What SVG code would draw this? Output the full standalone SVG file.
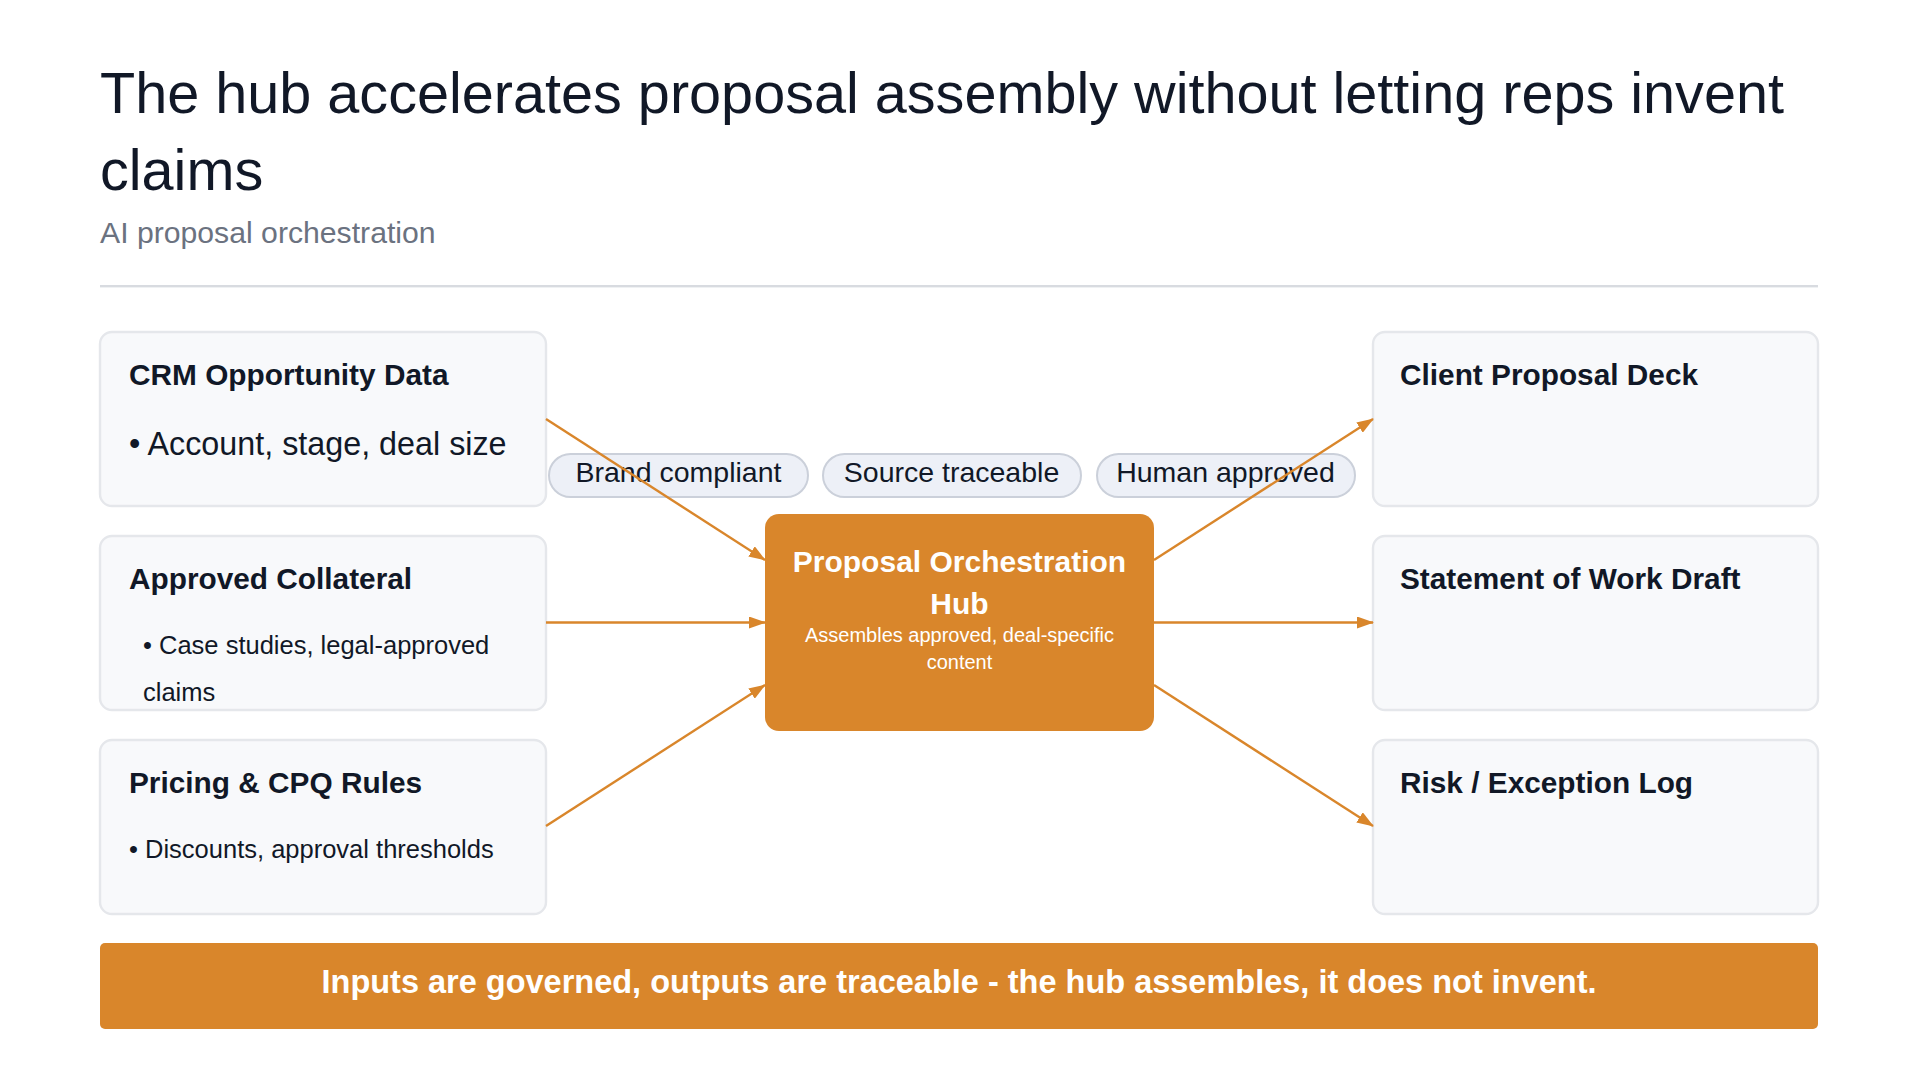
<svg xmlns="http://www.w3.org/2000/svg" width="1919" height="1080" viewBox="0 0 1919 1080">
  <defs>
    <style>
      .txt { font-family: "Liberation Sans", Arial, Helvetica, sans-serif; }
      .title { font-size: 57.6px; fill: #111827; }
      .sub { font-size: 30.2px; fill: #6b7280; }
      .card { fill: #f8f9fb; stroke: #e5e7eb; stroke-width: 2.4; }
      .ctitle { font-size: 29.8px; font-weight: bold; fill: #111827; }
      .cbody { font-size: 25.5px; fill: #111827; }
      .pill { fill: #edf0f7; stroke: #cbd0da; stroke-width: 2; }
      .ptext { font-size: 28.5px; fill: #111827; text-anchor: middle; }
      .edge { stroke: #d9862b; stroke-width: 2.4; fill: none; marker-end: url(#arrow); }
      .hubtitle { font-size: 30px; font-weight: bold; fill: #ffffff; text-anchor: middle; }
      .hubsub { font-size: 20px; fill: #ffffff; text-anchor: middle; }
    </style>
    <marker id="arrow" markerUnits="userSpaceOnUse" markerWidth="17" markerHeight="12" refX="16" refY="6" orient="auto">
      <path d="M0,0 L17,6 L0,12 z" fill="#d9862b"/>
    </marker>
  </defs>
  <rect x="0" y="0" width="1919" height="1080" fill="#ffffff"/>

  <g id="header" class="txt">
    <text class="title txt"><tspan x="100" y="113">The hub accelerates proposal assembly without letting reps invent</tspan><tspan x="100" y="190">claims</tspan></text>
    <text class="sub txt" x="100" y="243">AI proposal orchestration</text>
    <rect x="100" y="285" width="1718" height="2.4" fill="#d8dbe0"/>
  </g>

  <g id="node-crm">
    <rect class="card" x="100" y="332" width="446" height="174" rx="12"/>
    <text class="txt ctitle" x="129" y="385">CRM Opportunity Data</text>
    <text class="txt cbody" x="129" y="455" style="font-size:32.3px">• Account, stage, deal size</text>
  </g>
  <g id="node-collateral">
    <rect class="card" x="100" y="536" width="446" height="174" rx="12"/>
    <text class="txt ctitle" x="129" y="589">Approved Collateral</text>
    <text class="txt cbody" x="143" y="654">• Case studies, legal-approved</text>
    <text class="txt cbody" x="143" y="701">claims</text>
  </g>
  <g id="node-pricing">
    <rect class="card" x="100" y="740" width="446" height="174" rx="12"/>
    <text class="txt ctitle" x="129" y="793">Pricing &amp; CPQ Rules</text>
    <text class="txt cbody" x="129" y="858">• Discounts, approval thresholds</text>
  </g>

  <g id="node-deck">
    <rect class="card" x="1373" y="332" width="445" height="174" rx="12"/>
    <text class="txt ctitle" x="1400" y="385">Client Proposal Deck</text>
  </g>
  <g id="node-sow">
    <rect class="card" x="1373" y="536" width="445" height="174" rx="12"/>
    <text class="txt ctitle" x="1400" y="589">Statement of Work Draft</text>
  </g>
  <g id="node-risk">
    <rect class="card" x="1373" y="740" width="445" height="174" rx="12"/>
    <text class="txt ctitle" x="1400" y="793">Risk / Exception Log</text>
  </g>

  <g id="pills">
    <g id="pill-brand">
      <rect class="pill" x="549" y="454" width="259" height="43" rx="21.5"/>
      <text class="txt ptext" x="678.5" y="482">Brand compliant</text>
    </g>
    <g id="pill-source">
      <rect class="pill" x="823" y="454" width="258" height="43" rx="21.5"/>
      <text class="txt ptext" x="951.5" y="482">Source traceable</text>
    </g>
    <g id="pill-human">
      <rect class="pill" x="1097" y="454" width="258" height="43" rx="21.5"/>
      <text class="txt ptext" x="1225.5" y="482">Human approved</text>
    </g>
  </g>

  <g id="connectors">
    <line class="edge" x1="546" y1="419" x2="765" y2="560"/>
    <line class="edge" x1="546" y1="622.5" x2="765" y2="622.5"/>
    <line class="edge" x1="546" y1="826" x2="765" y2="685"/>
    <line class="edge" x1="1154" y1="560" x2="1373" y2="419"/>
    <line class="edge" x1="1154" y1="622.5" x2="1373" y2="622.5"/>
    <line class="edge" x1="1154" y1="685" x2="1373" y2="826"/>
  </g>

  <g id="node-hub">
    <rect x="765" y="514" width="389" height="217" rx="14" fill="#d9862b"/>
    <text class="txt hubtitle"><tspan x="959.5" y="572">Proposal Orchestration</tspan><tspan x="959.5" y="614">Hub</tspan></text>
    <text class="txt hubsub"><tspan x="959.5" y="642">Assembles approved, deal-specific</tspan><tspan x="959.5" y="669">content</tspan></text>
  </g>

  <g id="footer">
    <rect x="100" y="943" width="1718" height="86" rx="5" fill="#d9862b"/>
    <text class="txt" x="959" y="993" text-anchor="middle" font-size="32.5" font-weight="bold" fill="#ffffff">Inputs are governed, outputs are traceable - the hub assembles, it does not invent.</text>
  </g>
</svg>
